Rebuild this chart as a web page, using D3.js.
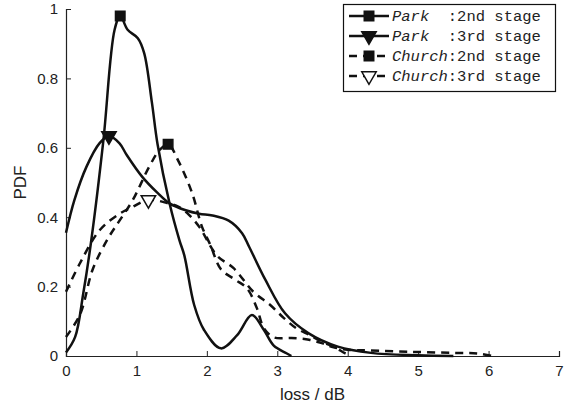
<!DOCTYPE html>
<html>
<head>
<meta charset="utf-8">
<script src="https://cdn.jsdelivr.net/npm/d3@7"></script>
<style>
  body { margin: 0; background: #fff; }
  svg { display: block; }
</style>
</head>
<body>
<svg id="chart" width="564" height="409"></svg>
<script>
// values: [loss (dB), pdf]
const parkStage2 = [[0,0.01],[0.13,0.055],[0.245,0.18],[0.36,0.335],[0.53,0.62],[0.69,0.94],[0.77,0.98],
  [0.875,0.94],[1.02,0.916],[1.11,0.873],[1.22,0.73],[1.3,0.61],[1.47,0.44],[1.61,0.334],[1.68,0.29],
  [1.82,0.147],[1.96,0.075],[2.2,0.022],[2.43,0.06],[2.64,0.118],[2.81,0.075],[2.95,0.03],[3.13,0.008],[3.2,0]];
const parkStage3 = [[0,0.355],[0.12,0.45],[0.29,0.545],[0.48,0.614],[0.61,0.634],[0.76,0.613],[0.86,0.58],
  [1.08,0.517],[1.3,0.47],[1.47,0.44],[1.7,0.42],[1.89,0.41],[2.08,0.405],[2.31,0.39],[2.5,0.354],
  [2.6,0.315],[2.83,0.22],[3.11,0.123],[3.44,0.066],[3.86,0.027],[4.33,0.009],[5,0.002],[5.5,0]];
const churchStage2 = [[0,0.055],[0.2,0.12],[0.38,0.25],[0.6,0.34],[0.76,0.39],[0.95,0.45],[1.18,0.545],
  [1.33,0.594],[1.45,0.61],[1.6,0.56],[1.79,0.47],[1.93,0.373],[2.05,0.32],[2.2,0.25],[2.4,0.22],
  [2.57,0.195],[2.71,0.138],[2.81,0.08],[2.95,0.054],[3.2,0.052],[3.45,0.047],[3.63,0.037],[3.8,0.025],
  [4.0,0.018],[4.3,0.016],[4.9,0.012],[5.5,0.009],[5.85,0.007],[6.05,0]];
const churchStage3 = [[0,0.185],[0.2,0.268],[0.48,0.363],[0.76,0.41],[0.95,0.43],[1.17,0.45],[1.45,0.44],
  [1.6,0.43],[1.75,0.406],[1.9,0.37],[2.14,0.29],[2.38,0.253],[2.66,0.185],[2.9,0.147],[3.09,0.11],
  [3.27,0.08],[3.46,0.06],[3.65,0.04],[3.82,0.025],[3.96,0.008],[4.05,0]];

// where the single marker of each curve sits
const markerAt = [[0.77,0.98],[0.61,0.634],[1.45,0.61],[1.17,0.45]];

const xTicks = [0,1,2,3,4,5,6,7];
const yTicks = [0,0.2,0.4,0.6,0.8,1];
const legendNames = ["Park", "Park", "Church", "Church"];
const legendStages = [":2nd stage", ":3rd stage", ":2nd stage", ":3rd stage"];

const series = [
  {data: parkStage2, dash: null, marker: "square", fill: "#111"},
  {data: parkStage3, dash: null, marker: "tri", fill: "#111"},
  {data: churchStage2, dash: "8,6", marker: "square", fill: "#111"},
  {data: churchStage3, dash: "8,6", marker: "tri", fill: "#fff"}
];

const svg = d3.select("#chart");
const margin = {left: 66, right: 5, top: 9, bottom: 53};
const W = 564, H = 409;
const sans = "'Liberation Sans', Arial, sans-serif";
const mono = "'Liberation Mono', 'Courier New', monospace";

const x = d3.scaleLinear().domain([0,7]).range([margin.left, W - margin.right]);
const y = d3.scaleLinear().domain([0,1]).range([H - margin.bottom, margin.top]);

// axes (left and bottom only, ticks inside)
const xAxis = d3.axisBottom(x).tickValues(xTicks).tickSize(-5).tickPadding(9).tickFormat(d3.format("d"));
const yAxis = d3.axisLeft(y).tickValues(yTicks).tickSize(-5).tickPadding(8)
  .tickFormat(d => d === 0 || d === 1 ? d : d3.format(".1f")(d));

const gx = svg.append("g").attr("transform", `translate(0,${y(0)})`).call(xAxis);
const gy = svg.append("g").attr("transform", `translate(${x(0)},0)`).call(yAxis);
[gx, gy].forEach(g => {
  g.select(".domain").attr("stroke", "#222").attr("stroke-width", 1.2);
  g.selectAll(".tick line").attr("stroke", "#222");
  g.selectAll(".tick text").style("font-size", "15px").style("font-family", sans).attr("fill", "#222");
});

svg.append("text").attr("x", (x(0)+x(7))/2).attr("y", 400).attr("text-anchor", "middle")
  .style("font-family", sans).style("font-size", "17px").attr("fill", "#222").text("loss / dB");
svg.append("text").attr("transform", `translate(26,${(y(0)+y(1))/2}) rotate(-90)`).attr("text-anchor", "middle")
  .style("font-family", sans).style("font-size", "17px").attr("fill", "#222").text("PDF");

const line = d3.line().x(d => x(d[0])).y(d => Math.min(y(0), y(d[1]))).curve(d3.curveCatmullRom.alpha(0.5));

const sqSym = d3.symbol().type(d3.symbolSquare).size(90);
const triSym = d3.symbol().type(d3.symbolTriangle).size(90);

function drawMarker(g, s, cx, cy) {
  const gen = s.marker === "square" ? sqSym : triSym;
  const rot = s.marker === "tri" ? " rotate(180)" : "";
  g.append("path").attr("d", gen()).attr("transform", `translate(${cx},${cy})${rot}`)
    .attr("fill", s.fill).attr("stroke", "#111").attr("stroke-width", 1.5);
}

series.forEach((s, i) => {
  svg.append("path").datum(s.data).attr("d", line)
    .attr("fill", "none").attr("stroke", "#111").attr("stroke-width", 2.5)
    .attr("stroke-dasharray", s.dash);
  drawMarker(svg, s, x(markerAt[i][0]), y(markerAt[i][1]));
});

// legend
const lg = svg.append("g");
lg.append("rect").attr("x", 343.5).attr("y", 4.5).attr("width", 212).attr("height", 87)
  .attr("fill", "#fff").attr("stroke", "#111").attr("stroke-width", 1.2);
series.forEach((s, i) => {
  const ry = 16 + i * 20;
  lg.append("line").attr("x1", 349).attr("x2", 389).attr("y1", ry).attr("y2", ry)
    .attr("stroke", "#111").attr("stroke-width", 2.5).attr("stroke-dasharray", s.dash);
  drawMarker(lg, s, 369, ry);
  const t = lg.append("text").attr("x", 392).attr("y", ry + 5)
    .style("font-family", mono).style("font-size", "15.5px").style("white-space", "pre").attr("fill", "#222");
  t.append("tspan").style("font-style", "italic").text(legendNames[i]);
  t.append("tspan").text(legendNames[i] === "Park" ? "  " + legendStages[i] : legendStages[i]);
});
</script>
</body>
</html>
